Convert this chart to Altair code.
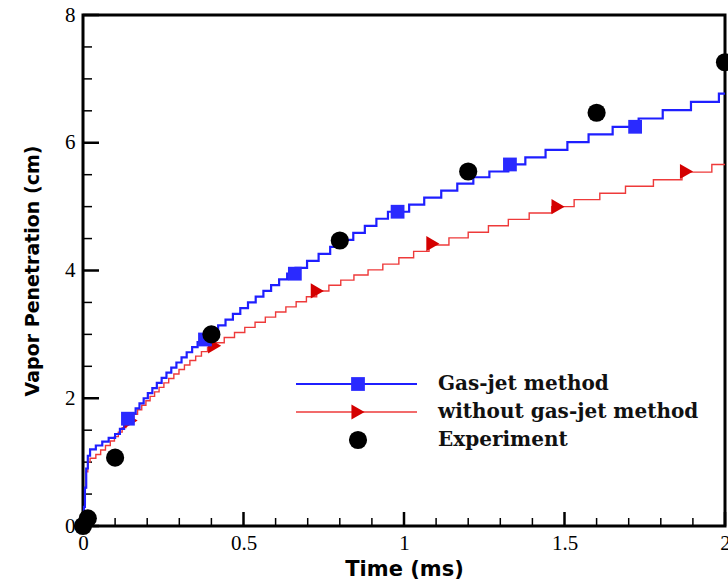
import altair as alt
import pandas as pd

# ---- data ----
gas_t = [0.000, 0.003, 0.006, 0.010, 0.015, 0.022, 0.040, 0.060, 0.080, 0.100, 0.115, 0.128, 0.140,
         0.152, 0.164, 0.176, 0.189, 0.202, 0.216, 0.230, 0.245, 0.260, 0.275, 0.291, 0.307, 0.323,
         0.340, 0.357, 0.375, 0.398, 0.421, 0.444, 0.467, 0.490, 0.514, 0.538, 0.562, 0.586, 0.611,
         0.636, 0.662, 0.698, 0.734, 0.770, 0.806, 0.842, 0.878, 0.914, 0.950, 1.016, 1.063, 1.116,
         1.166, 1.216, 1.266, 1.325, 1.378, 1.441, 1.509, 1.575, 1.650, 1.731, 1.806, 1.894, 1.981, 2.000]
gas_y = [0.00, 0.30, 0.60, 0.90, 1.10, 1.20, 1.26, 1.32, 1.38, 1.44, 1.52, 1.60, 1.68,
         1.76, 1.84, 1.92, 2.00, 2.08, 2.16, 2.24, 2.32, 2.40, 2.48, 2.56, 2.64, 2.72,
         2.80, 2.88, 2.96, 3.05, 3.14, 3.23, 3.32, 3.41, 3.50, 3.59, 3.68, 3.77, 3.86,
         3.95, 4.04, 4.15, 4.26, 4.37, 4.48, 4.59, 4.70, 4.81, 4.92, 5.03, 5.14, 5.25,
         5.36, 5.46, 5.55, 5.66, 5.77, 5.89, 6.01, 6.13, 6.25, 6.38, 6.51, 6.64, 6.77, 6.77]

nog_t = [0.000, 0.003, 0.006, 0.010, 0.015, 0.022, 0.040, 0.055, 0.070, 0.085, 0.098, 0.110, 0.122,
         0.134, 0.146, 0.158, 0.170, 0.183, 0.196, 0.209, 0.223, 0.237, 0.252, 0.267, 0.283, 0.299,
         0.316, 0.333, 0.351, 0.369, 0.388, 0.408, 0.440, 0.472, 0.504, 0.536, 0.568, 0.600, 0.632,
         0.664, 0.696, 0.728, 0.766, 0.803, 0.844, 0.888, 0.934, 0.984, 1.030, 1.078, 1.140, 1.200,
         1.263, 1.325, 1.390, 1.460, 1.530, 1.610, 1.690, 1.777, 1.866, 1.959, 2.000]
nog_y = [0.00, 0.30, 0.60, 0.85, 1.00, 1.06, 1.12, 1.19, 1.26, 1.33, 1.40, 1.47, 1.54,
         1.61, 1.68, 1.75, 1.82, 1.89, 1.96, 2.03, 2.10, 2.17, 2.24, 2.31, 2.38, 2.45,
         2.52, 2.59, 2.66, 2.73, 2.80, 2.87, 2.95, 3.03, 3.11, 3.19, 3.27, 3.35, 3.43,
         3.51, 3.59, 3.68, 3.77, 3.85, 3.93, 4.01, 4.10, 4.20, 4.30, 4.40, 4.51, 4.60,
         4.70, 4.80, 4.90, 5.00, 5.11, 5.21, 5.32, 5.42, 5.54, 5.66, 5.66]

sq_t = [0.14, 0.38, 0.66, 0.98, 1.33, 1.72]
sq_y = [1.68, 2.92, 3.95, 4.92, 5.66, 6.25]

tri_t = [0.15, 0.41, 0.73, 1.09, 1.48, 1.88]
tri_y = [1.65, 2.82, 3.68, 4.42, 5.00, 5.55]

exp_t = [0.00, 0.015, 0.10, 0.40, 0.80, 1.20, 1.60, 2.00]
exp_y = [0.00, 0.12, 1.07, 3.00, 4.47, 5.55, 6.47, 7.26]

x_major = [0, 0.5, 1, 1.5, 2]
x_minor = [0.1, 0.2, 0.3, 0.4, 0.6, 0.7, 0.8, 0.9, 1.1, 1.2, 1.3, 1.4, 1.6, 1.7, 1.8, 1.9]
y_major = [0, 2, 4, 6, 8]
y_minor = [0.5, 1, 1.5, 2.5, 3, 3.5, 4.5, 5, 5.5, 6.5, 7, 7.5]

legend_labels = ["Gas-jet method", "without gas-jet method", "Experiment"]

# ---- chart ----
W, H = 642, 511
BLUE_LINE = "#1f1fff"
BLUE_MARK = "#2a2aff"
RED_LINE = "#ee3a3a"
RED_MARK = "#d40000"

xs = alt.Scale(domain=[0, 2], nice=False, zero=False)
ys = alt.Scale(domain=[0, 8], nice=False, zero=False)

xaxis = alt.Axis(values=x_major, title="Time (ms)", grid=False, ticks=False, domain=False,
                 format="~g",
                 labelFont="Liberation Serif", labelFontSize=21, labelColor="black",
                 labelPadding=6, labelFlush=False, labelOverlap=False,
                 titleFont="DejaVu Sans", titleFontSize=21, titleFontWeight="bold",
                 titleColor="black", titlePadding=5)
yaxis = alt.Axis(values=y_major, title="Vapor Penetration (cm)", grid=False, ticks=False,
                 domain=False, format="~g", labelFont="Liberation Serif", labelFontSize=21,
                 labelColor="black", labelPadding=8, labelFlush=False, labelOverlap=False,
                 titleFont="DejaVu Sans", titleFontSize=19, titleFontWeight="bold",
                 titleColor="black", titlePadding=22)


def X(f):
    return alt.X(f, type="quantitative", scale=xs, axis=xaxis)


def Y(f):
    return alt.Y(f, type="quantitative", scale=ys, axis=yaxis)


gas_df = pd.DataFrame({"t": gas_t, "y": gas_y})
nog_df = pd.DataFrame({"t": nog_t, "y": nog_y})
sq_df = pd.DataFrame({"t": sq_t, "y": sq_y})
tri_df = pd.DataFrame({"t": tri_t, "y": tri_y})
exp_df = pd.DataFrame({"t": exp_t, "y": exp_y})

red_line = alt.Chart(nog_df).mark_line(interpolate="step-after", color=RED_LINE,
                                       strokeWidth=1.4).encode(x=X("t"), y=Y("y"))
blue_line = alt.Chart(gas_df).mark_line(interpolate="step-after", color=BLUE_LINE,
                                        strokeWidth=2.2).encode(x=X("t"), y=Y("y"))
squares = alt.Chart(sq_df).mark_point(shape="square", filled=True, color=BLUE_MARK,
                                      size=190, opacity=1).encode(x=X("t"), y=Y("y"))
tris = alt.Chart(tri_df).mark_point(shape="triangle-right", filled=True, color=RED_MARK,
                                    size=230, opacity=1).encode(x=X("t"), y=Y("y"))
exps = alt.Chart(exp_df).mark_point(shape="circle", filled=True, color="black",
                                    size=330, opacity=1).encode(x=X("t"), y=Y("y"))

# inward ticks
xmaj = alt.Chart(pd.DataFrame({"v": x_major})).mark_rule(color="black", strokeWidth=2.5).encode(
    x=X("v"), y=alt.value(H), y2=alt.value(H - 14))
xmin = alt.Chart(pd.DataFrame({"v": x_minor})).mark_rule(color="black", strokeWidth=1.5).encode(
    x=X("v"), y=alt.value(H), y2=alt.value(H - 8))
ymaj = alt.Chart(pd.DataFrame({"v": y_major})).mark_rule(color="black", strokeWidth=2.5).encode(
    y=Y("v"), x=alt.value(0), x2=alt.value(16))
ymin = alt.Chart(pd.DataFrame({"v": y_minor})).mark_rule(color="black", strokeWidth=1.5).encode(
    y=Y("v"), x=alt.value(0), x2=alt.value(9))

# legend drawn in the plot area
leg_y = [369, 397, 425]
leg_layers = []
# row 1: blue line + square
leg_layers.append(alt.Chart(pd.DataFrame({"k": [0]})).mark_rule(color=BLUE_LINE, strokeWidth=2.2).encode(
    x=alt.value(213), x2=alt.value(334), y=alt.value(leg_y[0])))
leg_layers.append(alt.Chart(pd.DataFrame({"k": [0]})).mark_point(shape="square", filled=True,
    color=BLUE_MARK, size=190, opacity=1).encode(x=alt.value(275), y=alt.value(leg_y[0])))
# row 2: red line + triangle
leg_layers.append(alt.Chart(pd.DataFrame({"k": [0]})).mark_rule(color=RED_LINE, strokeWidth=1.4).encode(
    x=alt.value(213), x2=alt.value(334), y=alt.value(leg_y[1])))
leg_layers.append(alt.Chart(pd.DataFrame({"k": [0]})).mark_point(shape="triangle-right", filled=True,
    color=RED_MARK, size=230, opacity=1).encode(x=alt.value(275), y=alt.value(leg_y[1])))
# row 3: circle
leg_layers.append(alt.Chart(pd.DataFrame({"k": [0]})).mark_point(shape="circle", filled=True,
    color="black", size=330, opacity=1).encode(x=alt.value(275), y=alt.value(leg_y[2])))
for lab, yy in zip(legend_labels, leg_y):
    leg_layers.append(alt.Chart(pd.DataFrame({"label": [lab]})).mark_text(
        align="left", baseline="middle", font="DejaVu Serif", fontSize=20, fontWeight="bold",
        color="#111111").encode(x=alt.value(355), y=alt.value(yy), text="label:N"))

chart = alt.layer(
    xmin, xmaj, ymin, ymaj, red_line, blue_line, tris, squares, exps, *leg_layers
).properties(
    width=W, height=H,
    autosize=alt.AutoSizeParams(type="none"),
    padding={"left": 83, "top": 15, "right": 3, "bottom": 60},
    background="white",
).configure_view(stroke="black", strokeWidth=3)

chart.save("out.html", embed_options={"renderer": "svg", "actions": False})
